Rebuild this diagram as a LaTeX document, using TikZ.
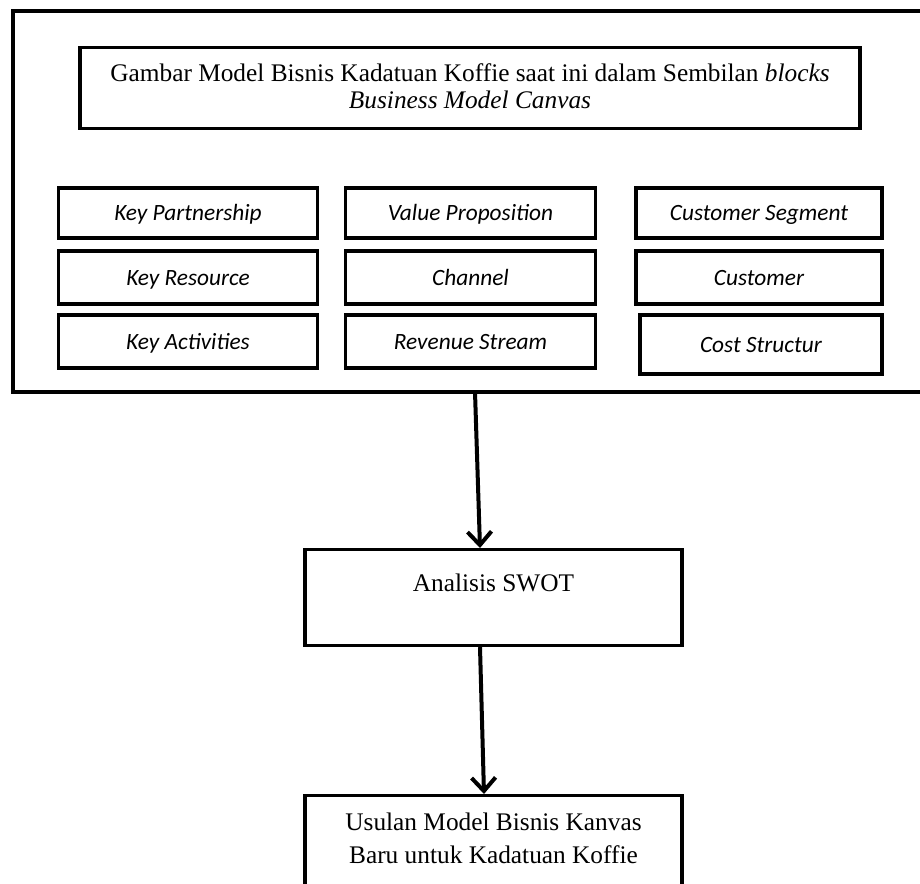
\documentclass[tikz,border=0pt]{standalone}
\usepackage{fontspec}
\setmainfont{Liberation Serif}
\newfontfamily\calib{Carlito}
\usetikzlibrary{arrows.meta,calc}
\newcommand{\tlines}[1]{\begin{tabular}[t]{@{}c@{}}#1\end{tabular}}
\begin{document}
\begin{tikzpicture}[x=0.75pt,y=-0.75pt,
  frame/.style={line width=2.4pt},
  bmc/.style={draw,line width=2.4pt,inner sep=0pt,minimum height=37.5pt,
     text height=15pt,text depth=3pt,
     font=\calib\itshape\fontsize{17.5pt}{20pt}\selectfont},
  flowbox/.style={draw,line width=2.4pt,inner sep=0pt,
     font=\fontsize{19pt}{20.25pt}\selectfont},
  conn/.style={line width=3pt,-{Straight Barb[length=10pt,width=18pt,line width=3pt]}}
]
\useasboundingbox (0,0) rectangle (920,884);
% outer frame (open at right edge)
\coordinate (ftr) at (921,11);
\coordinate (fbr) at (921,392);
\coordinate (ftl) at (13,11);
\coordinate (fbl) at (13,392);
\draw[frame] (ftr) -- (ftl) -- (fbl) -- (fbr);
\coordinate (a1s) at (475,392);

% title box
\node[flowbox,anchor=north,minimum width=585pt,text height=25.5pt,text depth=35.25pt]
  (title) at (470,46) {\tlines{Gambar Model Bisnis Kadatuan Koffie saat ini dalam Sembilan \textit{blocks}\\ \textit{Business Model Canvas}}};

% nine blocks
\node[bmc,minimum width=194pt] (kp) at (188,213) {Key Partnership};
\node[bmc,minimum width=194pt,minimum height=39.75pt] (kr) at (188,277.5) {Key Resource};
\node[bmc,minimum width=194pt,minimum height=39.75pt] (ka) at (188,341.5) {Key Activities};
\node[bmc,minimum width=187pt] (vp) at (470.5,213) {Value Proposition};
\node[bmc,minimum width=187pt,minimum height=39.75pt] (ch) at (470.5,277.5) {Channel};
\node[bmc,minimum width=187pt,minimum height=39.75pt] (rs) at (470.5,341.5) {Revenue Stream};
\node[bmc,minimum width=184.5pt] (cs) at (759,213) {Customer Segment};
\node[bmc,minimum width=184.5pt,minimum height=39.75pt] (cu) at (759,277.5) {Customer};
\node[bmc,minimum width=181.5pt,minimum height=44.25pt] (co) at (761,344.5) {Cost Structur};

% SWOT
\node[flowbox,anchor=north,minimum width=282.75pt,text height=31.5pt,text depth=40.5pt]
  (swot) at (493.5,548) {Analisis SWOT};

% proposal
\node[flowbox,anchor=north,minimum width=282.75pt,text height=26pt,text depth=62pt,
  font=\fontsize{19pt}{24.75pt}\selectfont]
  (usulan) at (493.5,794) {\tlines{Usulan Model Bisnis Kanvas\\ Baru untuk Kadatuan Koffie}};

\draw[conn] (a1s) -- ($(swot.north)+(-13.5,0)$);
\draw[conn] ($(swot.south)+(-13.5,0)$) -- ($(usulan.north)+(-9.5,0)$);
\end{tikzpicture}
\end{document}
